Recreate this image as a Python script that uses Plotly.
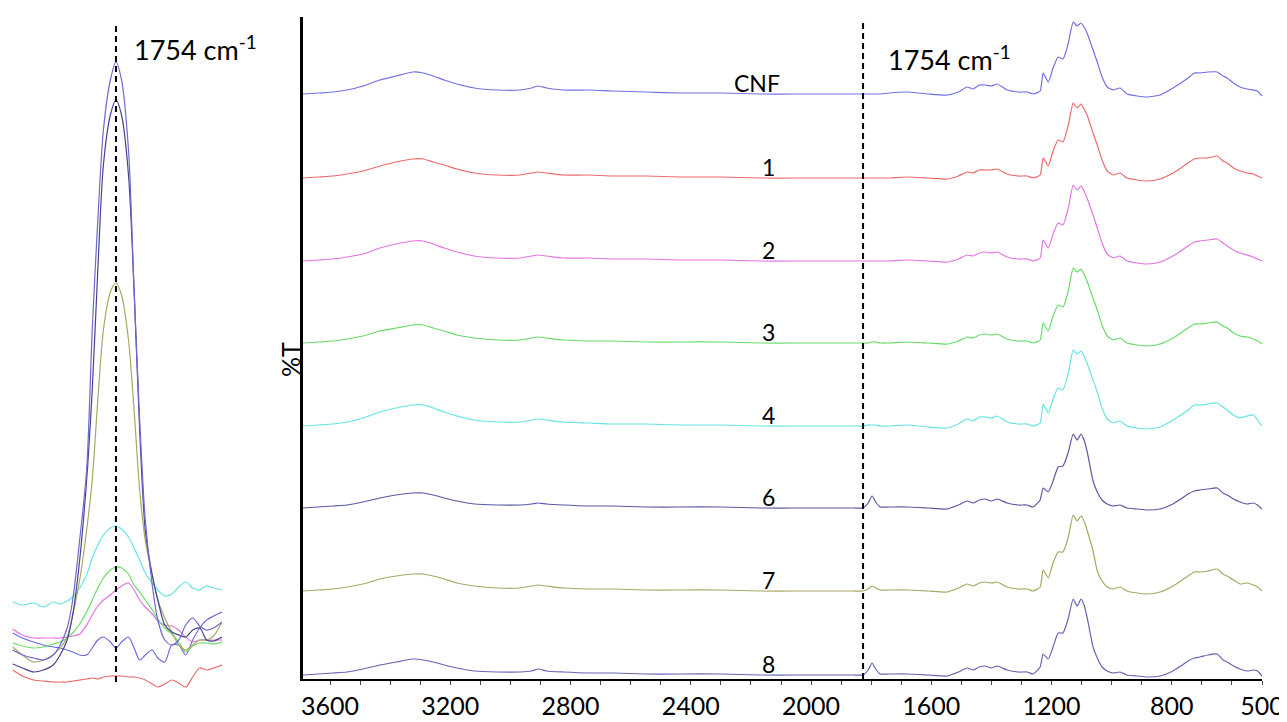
import plotly.graph_objects as go

# ---------------- main spectra (wavenumber grid, cm-1) ----------------
wavenumber = [3690, 3640, 3590, 3543, 3490, 3434, 3380, 3324, 3290, 3257,
              3220, 3178, 3120, 3044, 2968, 2930, 2908, 2880, 2825, 2740,
              2659, 2550, 2436, 2300, 2170, 2050, 1950, 1860, 1827, 1810,
              1797, 1785, 1770, 1740, 1680, 1610, 1547, 1510, 1481, 1461,
              1440, 1421, 1400, 1381, 1348, 1310, 1281, 1261, 1238, 1228,
              1211, 1195, 1178, 1162, 1145, 1128, 1115, 1102, 1092, 1082,
              1062, 1048, 1032, 1015, 995, 972, 949, 915, 882, 839,
              796, 770, 746, 725, 706, 680, 649, 630, 616, 595,
              573, 550, 529, 515, 500]

names = ["CNF", "1", "2", "3", "4", "6", "7", "8"]

spec_cnf = [0, 1, 2, 4, 8, 14, 18, 22, 21, 18, 14, 10, 6, 4, 4, 6, 8, 6, 4, 4,
            3, 2, 1, 1, 0, 0, 0, 0, 0, 0, 0, 0, 0, 1, 2, 0, -1, 2, 7, 5,
            9, 9, 8, 10, 4, 2, 2, 0, 3, 21, 12, 26, 37, 35, 50, 72, 68, 71, 67, 61,
            44, 32, 17, 7, 4, 6, 0, -2, -3, -1, 6, 11, 16, 21, 21, 22, 22, 18, 16, 11,
            7, 5, 4, 3, -2]
spec_1 = [0, 1, 2, 4, 7, 12, 16, 19, 19, 16, 13, 9, 5, 3, 3, 5, 6, 5, 3, 3,
          2, 2, 1, 1, 0, 0, 0, 0, 0, 0, 0, 0, 0, 0, 1, 0, -1, 2, 6, 5,
          8, 8, 8, 9, 4, 2, 2, 0, 3, 20, 12, 27, 38, 36, 52, 75, 70, 74, 69, 63,
          45, 33, 18, 7, 3, 5, 0, -2, -3, -1, 5, 10, 15, 19, 20, 20, 22, 17, 15, 10,
          7, 5, 4, 2, 0]
spec_2 = [0, 1, 2, 4, 7, 13, 17, 20, 20, 17, 13, 9, 5, 3, 3, 5, 6, 5, 3, 3,
          2, 2, 1, 1, 0, 0, 0, 0, 0, 0, 0, 0, 0, 0, 1, 0, -1, 2, 6, 5,
          8, 9, 8, 9, 4, 2, 2, 0, 3, 21, 13, 27, 38, 36, 52, 76, 71, 75, 70, 63,
          46, 33, 18, 7, 3, 5, 0, -2, -3, -1, 5, 10, 15, 19, 20, 21, 22, 18, 15, 11,
          8, 6, 4, 2, 0]
spec_3 = [0, 1, 2, 4, 7, 12, 15, 18, 18, 15, 12, 8, 5, 3, 3, 5, 6, 5, 3, 2,
          2, 1, 1, 1, 0, 0, 0, 0, 0, 0, 1, 1, 0, 0, 1, 0, -1, 2, 6, 5,
          8, 9, 8, 9, 4, 2, 2, 0, 3, 20, 12, 27, 38, 36, 51, 75, 71, 74, 69, 62,
          45, 33, 18, 7, 3, 5, 0, -2, -3, -1, 5, 10, 15, 19, 19, 20, 21, 17, 15, 10,
          7, 6, 4, 2, -1]
spec_4 = [0, 1, 2, 4, 8, 14, 18, 21, 21, 18, 14, 10, 6, 4, 4, 6, 7, 6, 4, 3,
          2, 2, 1, 1, 0, 0, 0, 0, 0, 1, 1, 1, 0, 0, 1, -1, -2, 2, 7, 5,
          9, 9, 8, 10, 4, 2, 2, 0, 3, 22, 13, 27, 38, 36, 52, 76, 72, 75, 70, 63,
          46, 34, 18, 7, 3, 5, 0, -2, -3, -1, 6, 11, 16, 21, 21, 22, 23, 19, 16, 11,
          8, 10, 11, 6, 0]
spec_6 = [0, 1, 2, 3, 6, 10, 13, 15, 15, 13, 10, 7, 4, 3, 3, 4, 5, 4, 3, 2,
          2, 1, 1, 1, 0, 0, 0, 0, 0, 5, 12, 6, 1, 1, 1, 0, -1, 3, 7, 5,
          8, 9, 7, 9, 5, 3, 3, 1, 8, 20, 16, 27, 41, 42, 55, 74, 68, 74, 68, 57,
          27, 16, 8, 4, 2, 3, 0, -1, -2, -1, 4, 9, 14, 17, 18, 19, 20, 15, 13, 9,
          6, 4, 5, 3, -1]
spec_7 = [0, 1, 2, 4, 7, 12, 15, 17, 17, 15, 12, 8, 5, 3, 3, 5, 6, 5, 3, 2,
          2, 1, 1, 1, 0, 0, 0, 0, 0, 2, 5, 3, 1, 1, 1, 0, -1, 3, 7, 5,
          8, 9, 8, 9, 4, 2, 2, 0, 4, 21, 13, 28, 39, 39, 53, 76, 70, 75, 70, 61,
          40, 20, 10, 4, 2, 4, 0, -2, -3, -1, 5, 10, 15, 19, 19, 20, 22, 17, 15, 11,
          7, 8, 6, 4, 0]
spec_8 = [0, 1, 2, 3, 6, 10, 13, 16, 15, 13, 10, 7, 4, 3, 3, 4, 6, 4, 3, 2,
          2, 1, 1, 1, 0, 0, 0, 0, 0, 5, 12, 6, 1, 1, 1, 0, -1, 3, 7, 5,
          8, 9, 7, 9, 5, 3, 3, 1, 8, 21, 16, 28, 42, 42, 56, 76, 69, 76, 70, 58,
          28, 17, 8, 4, 2, 3, 0, -1, -2, -1, 4, 9, 14, 17, 18, 20, 21, 15, 13, 9,
          6, 4, 5, 4, -1]

# ---------------- inset: zoom around 1754 cm-1 ----------------
inset_wn = [1828, 1821, 1813, 1806, 1799, 1794, 1789, 1785, 1780, 1775, 1771,
            1767, 1763, 1758, 1754, 1750, 1745, 1741, 1737, 1733, 1728, 1724,
            1719, 1714, 1709, 1704, 1699, 1694, 1689, 1684, 1678]
inset_cnf = [59, 54, 50, 47, 45, 44, 42, 40, 37, 37, 44, 52, 55, 50, 44, 50,
             55, 44, 32, 37, 42, 34, 30, 47, 47, 37, 52, 64, 72, 76, 80]
inset_1 = [22, 16, 12, 11, 10, 10, 10, 11, 12, 13, 14, 13, 15, 16, 16, 16,
           15, 15, 14, 12, 8, 5, 8, 12, 9, 5, 15, 24, 22, 24, 27]
inset_2 = [63, 57, 54, 54, 54, 54, 55, 56, 58, 67, 77, 86, 92, 97, 102, 106,
           109, 102, 92, 85, 78, 71, 67, 66, 62, 55, 50, 52, 52, 52, 52]
inset_3 = [49, 46, 44, 45, 48, 50, 54, 59, 68, 80, 92, 104, 114, 122, 125, 124,
           118, 107, 100, 92, 82, 73, 64, 58, 50, 40, 46, 49, 49, 48, 50]
inset_4 = [90, 87, 89, 85, 90, 88, 91, 95, 104, 117, 134, 147, 157, 164, 166, 163,
           155, 144, 132, 119, 109, 102, 96, 98, 105, 110, 104, 102, 106, 104, 102]
inset_6 = [28, 24, 20, 22, 27, 37, 52, 77, 132, 212, 302, 422, 527, 577, 592, 577,
           517, 402, 262, 162, 117, 92, 67, 60, 57, 55, 62, 64, 52, 51, 55]
inset_7 = [45, 37, 30, 32, 37, 44, 55, 77, 112, 162, 212, 292, 362, 400, 409, 397,
           352, 282, 202, 152, 117, 92, 74, 60, 47, 42, 47, 52, 52, 56, 70]
inset_8 = [42, 37, 34, 32, 37, 47, 64, 92, 152, 222, 362, 472, 562, 612, 630, 612,
           542, 402, 272, 172, 107, 72, 52, 47, 52, 67, 74, 66, 62, 64, 70]

marker_wn_main = 1827   # where the dashed marker sits on the main axis
marker_wn_inset = 1754
tick_vals = [3600, 3200, 2800, 2400, 2000, 1600, 1200, 800, 500]
tick_text = ["3600", "3200", "2800", "2400", "2000", "1600", "1200", "800", "500"]

# ---------------- styling / layout constants ----------------
offsets = [585, 501, 418, 336, 253, 171, 88, 4]
colors = ["#7070e4", "#ef6a6c", "#e276e2", "#68dc68", "#66e4e4",
          "#5a5aa6", "#a8a864", "#6666b4"]
inset_colors = {"CNF": "#6e6ee0", "1": "#ef6a6c", "2": "#e276e2", "3": "#68dc68",
                "4": "#66e4e4", "6": "#45458e", "7": "#a8a864", "8": "#6a6ad0"}
FONT = "Lato"
PAGE_OFF = 8              # default body margin of the page
W, H = 1287 - PAGE_OFF, 722 - PAGE_OFF
ML, MR, MT, MB = 0, 25, 2, 22
PW = W - ML - MR
PH = H - MT - MB


def px_x(px):
    """reference-screen x pixel -> paper fraction"""
    return (px - PAGE_OFF - ML) / PW


def px_y(py):
    """reference-screen y pixel -> paper fraction"""
    return (H - MB - (py - PAGE_OFF)) / PH


main_spectra = [spec_cnf, spec_1, spec_2, spec_3, spec_4, spec_6, spec_7, spec_8]
inset_spectra = {"CNF": inset_cnf, "1": inset_1, "2": inset_2, "3": inset_3,
                 "4": inset_4, "6": inset_6, "7": inset_7, "8": inset_8}

fig = go.Figure()

for name, spec, off, col in zip(names, main_spectra, offsets, colors):
    fig.add_trace(go.Scatter(
        x=wavenumber, y=[v + off for v in spec], mode="lines",
        line=dict(color=col, width=1.2, shape="spline", smoothing=0.5),
        name=name, showlegend=False, hoverinfo="skip", xaxis="x", yaxis="y"))

for name in ["1", "CNF", "2", "3", "4", "7", "6", "8"]:
    fig.add_trace(go.Scatter(
        x=inset_wn, y=inset_spectra[name], mode="lines",
        line=dict(color=inset_colors[name], width=1.2, shape="spline", smoothing=0.8),
        showlegend=False, hoverinfo="skip", xaxis="x2", yaxis="y2"))

# sample labels
for name, off in zip(names, offsets):
    fig.add_annotation(x=2180 if name == "CNF" else 2143, y=off + 11,
                       xref="x", yref="y", text=name, showarrow=False,
                       xanchor="center", yanchor="middle",
                       font=dict(family=FONT, size=23, color="black"))

# dashed markers
fig.add_shape(type="line", xref="x", yref="y", x0=marker_wn_main, x1=marker_wn_main,
              y0=0, y1=660, line=dict(color="black", width=2, dash="6px,4px"))
fig.add_shape(type="line", xref="x2", yref="y2", x0=marker_wn_inset, x1=marker_wn_inset,
              y0=10, y1=670, line=dict(color="black", width=2, dash="6px,4px"))

# band annotations
for xp, yp in [(132, 48), (886, 58)]:
    fig.add_annotation(x=px_x(xp), y=px_y(yp), xref="paper", yref="paper",
                       text="1754 cm<sup>-1</sup>", showarrow=False,
                       xanchor="left", yanchor="middle",
                       font=dict(family=FONT, size=27, color="black"))

# %T axis label
fig.add_annotation(x=px_x(290), y=px_y(360), xref="paper", yref="paper",
                   text="%T", textangle=-90, showarrow=False,
                   xanchor="center", yanchor="middle",
                   font=dict(family=FONT, size=25, color="black"))

fig.update_layout(
    width=W, height=H, margin=dict(l=ML, r=MR, t=MT, b=MB, autoexpand=False),
    paper_bgcolor="white", plot_bgcolor="white",
    xaxis=dict(domain=[px_x(303), 1], range=[3690, 500], showgrid=False,
               zeroline=False, showline=True, linecolor="black", linewidth=2,
               tickvals=tick_vals, ticktext=tick_text, ticks="outside",
               ticklen=4, tickcolor="#444", ticklabelstandoff=0,
               minor=dict(ticks="outside", dtick=100, ticklen=4, tickcolor="#444"),
               tickfont=dict(family=FONT, size=25, color="black"),
               anchor="y", automargin=False),
    yaxis=dict(domain=[px_y(679), px_y(17)], range=[0, 662], showgrid=False,
               zeroline=False, showline=True, linecolor="black", linewidth=3,
               showticklabels=False, ticks="", anchor="x"),
    xaxis2=dict(domain=[px_x(12), px_x(222)], range=[1828.5, 1678], visible=False,
                anchor="y2"),
    yaxis2=dict(domain=[px_y(692), px_y(10)], range=[0, 682], visible=False,
                anchor="x2"),
)

fig.write_html("out.html")
